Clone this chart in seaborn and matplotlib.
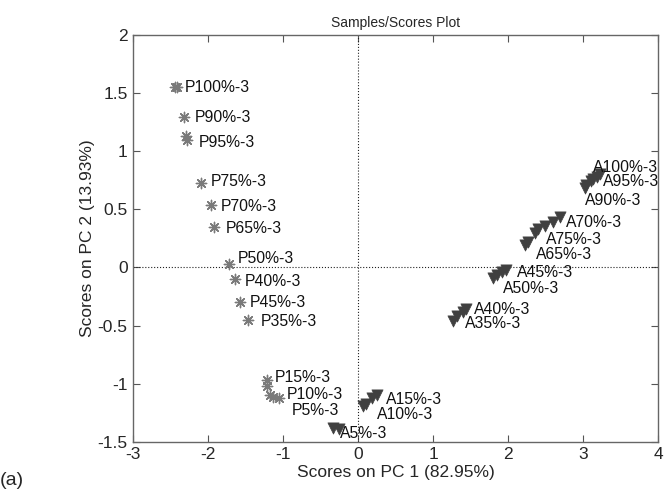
import pandas as pd
import matplotlib
matplotlib.use("Agg")
import matplotlib.pyplot as plt
import seaborn as sns

# replicate scores per sample (PC1, PC2)
p_samples = ["P100%-3", "P100%-3", "P90%-3", "P95%-3", "P95%-3", "P75%-3", "P70%-3",
             "P65%-3", "P50%-3", "P40%-3", "P45%-3", "P35%-3", "P15%-3", "P15%-3",
             "P10%-3", "P10%-3", "P5%-3"]
p_pc1 = [-2.44, -2.42, -2.32, -2.30, -2.28, -2.09, -1.96,
         -1.92, -1.72, -1.64, -1.58, -1.47, -1.22, -1.22,
         -1.17, -1.13, -1.06]
p_pc2 = [1.55, 1.55, 1.29, 1.13, 1.10, 0.73, 0.535,
         0.35, 0.03, -0.10, -0.30, -0.45, -0.97, -1.02,
         -1.10, -1.11, -1.12]

a_samples = ["A100%-3", "A100%-3", "A95%-3", "A95%-3", "A90%-3", "A90%-3",
             "A70%-3", "A70%-3", "A75%-3", "A75%-3", "A75%-3", "A65%-3", "A65%-3",
             "A45%-3", "A45%-3", "A50%-3", "A50%-3", "A40%-3", "A40%-3",
             "A35%-3", "A35%-3", "A15%-3", "A15%-3", "A10%-3", "A10%-3",
             "A5%-3", "A5%-3"]
a_pc1 = [3.18, 3.22, 3.10, 3.13, 3.02, 3.04,
         2.60, 2.69, 2.36, 2.40, 2.49, 2.23, 2.27,
         1.92, 1.97, 1.80, 1.85, 1.40, 1.44,
         1.27, 1.32, 0.18, 0.25, 0.07, 0.11,
         -0.33, -0.26]
a_pc2 = [0.78, 0.80, 0.74, 0.76, 0.68, 0.71,
         0.39, 0.43, 0.30, 0.33, 0.36, 0.19, 0.22,
         -0.04, -0.02, -0.09, -0.065, -0.38, -0.36,
         -0.46, -0.42, -1.12, -1.10, -1.19, -1.17,
         -1.38, -1.39]

# label offsets in pixels from the sample mean
label_offsets = {
    "P100%-3": (9, 0), "P90%-3": (11, 0), "P95%-3": (12, -5), "P75%-3": (9, 1),
    "P70%-3": (10, -1), "P65%-3": (12, -2), "P50%-3": (9, 5), "P40%-3": (10, -2),
    "P45%-3": (10, 0), "P35%-3": (13, -2), "P15%-3": (8, 6), "P10%-3": (15, 1),
    "P5%-3": (13, -13),
    "A100%-3": (-5, 8), "A95%-3": (11, -1), "A90%-3": (0, -14), "A70%-3": (10, -3),
    "A75%-3": (7, -10), "A65%-3": (9, -11), "A45%-3": (13, -2), "A50%-3": (8, -12),
    "A40%-3": (9, 1), "A35%-3": (10, -5), "A15%-3": (12, -3), "A10%-3": (12, -10),
    "A5%-3": (4, -5),
}

p_df = pd.DataFrame({"sample": p_samples, "pc1": p_pc1, "pc2": p_pc2})
a_df = pd.DataFrame({"sample": a_samples, "pc1": a_pc1, "pc2": a_pc2})

sns.set_style("ticks")
plt.rcParams["font.family"] = ["Liberation Sans", "DejaVu Sans"]
plt.rcParams["axes.unicode_minus"] = False

fig = plt.figure(figsize=(6.66, 4.91), dpi=100)
ax = fig.add_axes([0.2, 0.1, 0.788, 0.829])

sns.scatterplot(data=p_df, x="pc1", y="pc2", marker=(8, 2, 0), s=55,
                color="#7a7a7a", linewidth=1.0, ax=ax, zorder=3)
sns.scatterplot(data=a_df, x="pc1", y="pc2", marker="v", s=65,
                color="#404040", edgecolor="#404040", linewidth=0.5, ax=ax, zorder=3)

for df in (p_df, a_df):
    means = df.groupby("sample", sort=False)[["pc1", "pc2"]].mean()
    for name, row in means.iterrows():
        dx, dy = label_offsets[name]
        ax.annotate(name, (row["pc1"], row["pc2"]), xytext=(dx, dy),
                    textcoords="offset pixels", ha="left", va="center",
                    fontsize=11.3, color="#111111")

ax.axhline(0, color="#222222", linestyle=":", linewidth=0.8, zorder=1)
ax.axvline(0, color="#222222", linestyle=":", linewidth=0.8, zorder=1)

ax.set_xlim(-3, 4)
ax.set_ylim(-1.5, 2)
ax.set_xticks(range(-3, 5))
ax.set_yticks([-1.5, -1, -0.5, 0, 0.5, 1, 1.5, 2])
ax.set_yticklabels(["-1.5", "-1", "-0.5", "0", "0.5", "1", "1.5", "2"])
ax.tick_params(direction="in", top=True, right=True, labelsize=12.5,
               length=5, width=0.8, color="#555555", pad=4)
for sp in ax.spines.values():
    sp.set_color("#666666")
    sp.set_linewidth(1.0)

ax.set_xlabel("Scores on PC 1 (82.95%)", fontsize=12.5, labelpad=2)
ax.set_ylabel("Scores on PC 2 (13.93%)", fontsize=12.5, labelpad=2)
ax.set_title("Samples/Scores Plot", fontsize=10, pad=6)

fig.text(0.0, 0.004, "(a)", fontsize=14, ha="left", va="bottom")

fig.savefig("out.png", dpi=100)
